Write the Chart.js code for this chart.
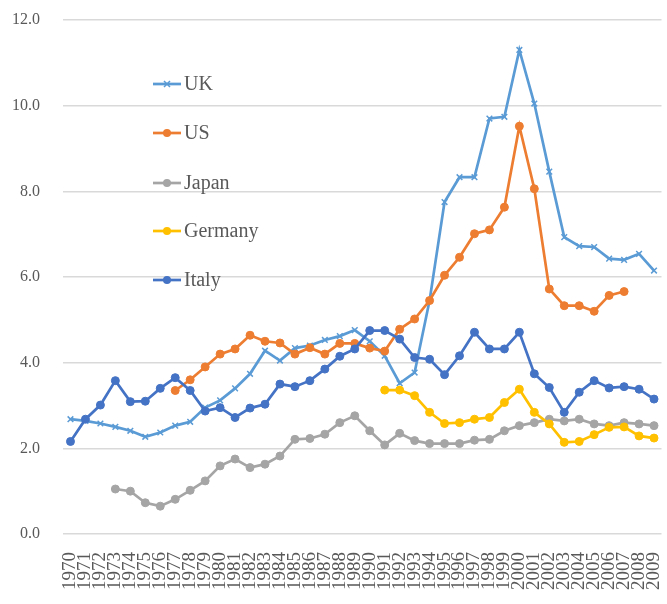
<!DOCTYPE html>
<html>
<head>
<meta charset="utf-8">
<script src="https://cdn.jsdelivr.net/npm/chart.js@4/dist/chart.umd.min.js"></script>
<style>
  html, body { margin: 0; padding: 0; background: #fff; }
  #wrap { width: 667px; height: 604px; position: relative; }
</style>
</head>
<body>
<div id="wrap"><canvas id="c" width="667" height="604"></canvas></div>
<script>
const years = ['1970','1971','1972','1973','1974','1975','1976','1977','1978','1979',
  '1980','1981','1982','1983','1984','1985','1986','1987','1988','1989',
  '1990','1991','1992','1993','1994','1995','1996','1997','1998','1999',
  '2000','2001','2002','2003','2004','2005','2006','2007','2008','2009'];

const seriesNames = ['UK', 'US', 'Japan', 'Germany', 'Italy'];

const ukValues = [2.68, 2.64, 2.58, 2.50, 2.41, 2.27, 2.37, 2.53, 2.62, 2.95,
  3.12, 3.40, 3.74, 4.28, 4.05, 4.34, 4.40, 4.53, 4.62, 4.76,
  4.50, 4.16, 3.52, 3.77, 5.45, 7.75, 8.33, 8.33, 9.70, 9.74,
  11.30, 10.05, 8.46, 6.93, 6.72, 6.70, 6.43, 6.40, 6.54, 6.15];

const usValues = [null, null, null, null, null, null, null, 3.35, 3.60, 3.90,
  4.20, 4.32, 4.64, 4.50, 4.46, 4.20, 4.35, 4.20, 4.45, 4.45,
  4.34, 4.27, 4.78, 5.02, 5.45, 6.04, 6.46, 7.01, 7.10, 7.63,
  9.52, 8.06, 5.72, 5.33, 5.33, 5.20, 5.57, 5.66, null, null];

const japanValues = [null, null, null, 1.05, 1.00, 0.73, 0.65, 0.81, 1.02, 1.24,
  1.59, 1.75, 1.55, 1.63, 1.82, 2.21, 2.23, 2.33, 2.60, 2.76,
  2.41, 2.08, 2.35, 2.18, 2.11, 2.11, 2.11, 2.19, 2.21, 2.41,
  2.53, 2.60, 2.68, 2.64, 2.68, 2.57, 2.53, 2.60, 2.57, 2.53];

const germanyValues = [null, null, null, null, null, null, null, null, null, null,
  null, null, null, null, null, null, null, null, null, null,
  null, 3.36, 3.36, 3.23, 2.84, 2.58, 2.60, 2.68, 2.72, 3.07,
  3.38, 2.84, 2.57, 2.14, 2.16, 2.32, 2.49, 2.50, 2.29, 2.24];

const italyValues = [2.16, 2.68, 3.01, 3.58, 3.09, 3.10, 3.40, 3.65, 3.35, 2.87,
  2.95, 2.72, 2.94, 3.03, 3.50, 3.44, 3.58, 3.85, 4.15, 4.32,
  4.75, 4.75, 4.55, 4.12, 4.08, 3.72, 4.16, 4.71, 4.32, 4.32,
  4.71, 3.74, 3.42, 2.84, 3.31, 3.58, 3.41, 3.44, 3.38, 3.15];

const yTicks = [0, 2, 4, 6, 8, 10, 12];

const colors = ['#5B9BD5', '#ED7D31', '#A5A5A5', '#FFC000', '#4472C4'];
const styles = ['crossRot', 'circle', 'circle', 'circle', 'circle'];
const allValues = [ukValues, usValues, japanValues, germanyValues, italyValues];

const datasets = seriesNames.map((name, i) => ({
  label: name,
  data: allValues[i],
  borderColor: colors[i],
  backgroundColor: colors[i],
  pointBackgroundColor: colors[i],
  pointBorderColor: colors[i],
  pointStyle: styles[i],
  pointRadius: 4,
  pointBorderWidth: i === 0 ? 1.5 : 1,
  borderWidth: 2.7,
  tension: 0,
  spanGaps: false,
  order: 5 - i
}));

const innerLegend = {
  id: 'innerLegend',
  afterDraw(chart) {
    const ctx = chart.ctx;
    const x0 = 153, x1 = 181, tx = 184;
    const ys = [84, 133, 183, 231, 280];
    ctx.save();
    seriesNames.forEach((name, i) => {
      const y = ys[i];
      ctx.strokeStyle = colors[i];
      ctx.lineWidth = 2.7;
      ctx.beginPath();
      ctx.moveTo(x0, y);
      ctx.lineTo(x1, y);
      ctx.stroke();
      const cx = (x0 + x1) / 2;
      if (styles[i] === 'crossRot') {
        ctx.lineWidth = 1.5;
        ctx.beginPath();
        ctx.moveTo(cx - 3, y - 3); ctx.lineTo(cx + 3, y + 3);
        ctx.moveTo(cx + 3, y - 3); ctx.lineTo(cx - 3, y + 3);
        ctx.stroke();
      } else {
        ctx.fillStyle = colors[i];
        ctx.beginPath();
        ctx.arc(cx, y, 4, 0, Math.PI * 2);
        ctx.fill();
      }
      ctx.fillStyle = '#595959';
      ctx.font = '20px "Liberation Serif", serif';
      ctx.textBaseline = 'middle';
      ctx.textAlign = 'left';
      ctx.fillText(name, tx, y + 1);
    });
    ctx.restore();
  }
};

new Chart(document.getElementById('c'), {
  type: 'line',
  data: { labels: years, datasets: datasets },
  options: {
    responsive: false,
    animation: false,
    devicePixelRatio: 1,
    layout: { padding: { left: 12, right: 2, top: 20, bottom: 0 } },
    plugins: {
      legend: { display: false },
      tooltip: { enabled: false }
    },
    scales: {
      x: {
        type: 'category',
        offset: true,
        grid: { display: false, drawTicks: false },
        border: { display: false },
        afterFit(scale) {
          scale.height = 70;
          scale.paddingLeft = 0;
          scale.paddingRight = 0;
        },
        ticks: {
          autoSkip: false,
          maxRotation: 90,
          minRotation: 90,
          padding: 18,
          color: '#595959',
          font: { family: '"Liberation Serif", serif', size: 19 }
        }
      },
      y: {
        min: 0,
        max: 12,
        afterBuildTicks(scale) { scale.ticks = yTicks.map(v => ({ value: v })); },
        afterFit(scale) {
          scale.width = 51;
          scale.paddingTop = 0;
          scale.paddingBottom = 0;
        },
        grid: { color: '#D9D9D9', lineWidth: 1.5, drawTicks: false },
        border: { display: false },
        ticks: {
          padding: 23,
          color: '#595959',
          font: { family: '"Liberation Serif", serif', size: 16 },
          callback: v => Number(v).toFixed(1)
        }
      }
    }
  },
  plugins: [innerLegend]
});
</script>
</body>
</html>
